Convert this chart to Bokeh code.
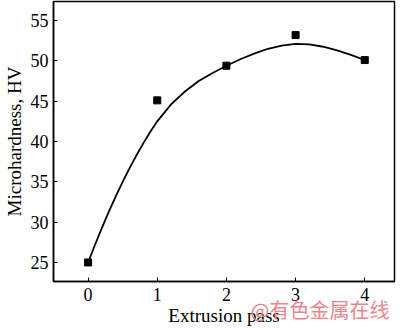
from bokeh.plotting import figure
from bokeh.models import Range1d, Title, FixedTicker
from bokeh.embed import file_html
from bokeh.resources import INLINE

passes = [0, 1, 2, 3, 4]
hardness = [25.0, 45.1, 49.4, 53.2, 50.1]

fit_x = [0, 0.1, 0.2, 0.3, 0.4, 0.5, 0.6, 0.7, 0.8, 0.9, 1.0, 1.2, 1.4, 1.6, 1.8,
         2.0, 2.2, 2.4, 2.6, 2.8, 3.0, 3.2, 3.4, 3.6, 3.8, 4.0]
fit_y = [25.0, 27.2, 29.3, 31.3, 33.2, 35.0, 36.7, 38.3, 39.8, 41.2, 42.5, 44.6, 46.2,
         47.5, 48.5, 49.4, 50.2, 50.9, 51.5, 51.9, 52.1, 52.05, 51.75, 51.3, 50.75, 50.1]

x_ticks = [0, 1, 2, 3, 4]
y_ticks = [25, 30, 35, 40, 45, 50, 55]

FONT = "Liberation Serif"

p = figure(width=400, height=329, output_backend="svg", toolbar_location=None,
           x_range=Range1d(-0.5, 4.43), y_range=Range1d(22.64, 57.36),
           min_border_left=48, min_border_right=6, min_border_top=1, min_border_bottom=48)
p.grid.visible = False
p.background_fill_color = "white"
p.border_fill_color = "white"
p.outline_line_color = "black"
p.outline_line_width = 1.5

p.line(fit_x, fit_y, line_color="black", line_width=1.8)
p.scatter(passes, hardness, marker="square", size=7, color="black")

for ax in (p.xaxis[0], p.yaxis[0]):
    ax.axis_line_color = "black"
    ax.axis_line_width = 1.5
    ax.major_tick_in = 4
    ax.major_tick_out = 0
    ax.minor_tick_line_color = None
    ax.major_label_text_font = FONT
    ax.major_label_text_font_size = "18px"
    ax.major_label_text_color = "black"
    ax.axis_label_text_font = FONT
    ax.axis_label_text_font_size = "19px"
    ax.axis_label_text_font_style = "normal"
    ax.axis_label_text_color = "black"

p.xaxis.ticker = FixedTicker(ticks=x_ticks)
p.yaxis.ticker = FixedTicker(ticks=y_ticks)
p.xaxis.axis_label = "Extrusion pass"
p.yaxis.axis_label = "Microhardness, HV"
p.xaxis.major_label_standoff = 6
p.yaxis.major_label_standoff = 5
p.xaxis.axis_label_standoff = 1
p.yaxis.axis_label_standoff = 3

wm = Title(text="@有色金属在线", align="right", vertical_align="top",
           text_font="Noto Sans CJK SC", text_font_size="20px", text_color="#e8868c",
           text_font_style="normal", standoff=-68, offset=5)
p.add_layout(wm, "below")

open("out.html", "w").write(file_html(p, INLINE))
